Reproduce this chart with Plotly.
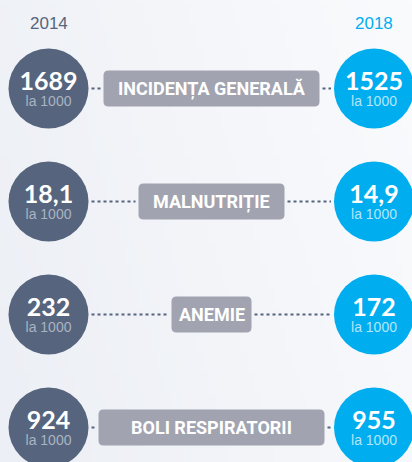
import base64
import struct
import zlib

import plotly.graph_objects as go

# data
indicators = ['INCIDENȚA GENERALĂ', 'MALNUTRIȚIE', 'ANEMIE', 'BOLI RESPIRATORII']
values_2014 = ['1689', '18,1', '232', '924']
values_2018 = ['1525', '14,9', '172', '955']
unit = 'la 1000'
years = ['2014', '2018']

# layout constants
W, H = 412, 462
left_x, right_x = 48.5, 374
row_y0, row_step = 88.5, 113
radius = 40
box_cx = 211.5
box_widths = [216, 146, 80, 226]
box_h = 36

col_left = '#56657d'
col_right = '#00aeef'
col_box = '#a1a4b0'

rows_y = [row_y0 + i * row_step for i in range(len(indicators))]


def rounded_rect(x0, y0, x1, y1, r):
    return (f'M{x0+r},{y0} L{x1-r},{y0} Q{x1},{y0} {x1},{y0+r} '
            f'L{x1},{y1-r} Q{x1},{y1} {x1-r},{y1} L{x0+r},{y1} '
            f'Q{x0},{y1} {x0},{y1-r} L{x0},{y0+r} Q{x0},{y0} {x0+r},{y0} Z')


def gradient_png(w=64, h=64, c0=(236, 239, 245), c1=(250, 251, 253)):
    # diagonal gradient: darker bottom-left, lighter top-right
    raw = b''
    for j in range(h):
        raw += b'\x00'
        for i in range(w):
            t = 0.75 * i / (w - 1) + 0.25 * (1 - j / (h - 1))
            raw += bytes(int(a + (b - a) * t) for a, b in zip(c0, c1))

    def chunk(tag, data):
        return struct.pack('>I', len(data)) + tag + data + struct.pack('>I', zlib.crc32(tag + data) & 0xffffffff)

    png = b'\x89PNG\r\n\x1a\n'
    png += chunk(b'IHDR', struct.pack('>IIBBBBB', w, h, 8, 2, 0, 0, 0))
    png += chunk(b'IDAT', zlib.compress(raw))
    png += chunk(b'IEND', b'')
    return 'data:image/png;base64,' + base64.b64encode(png).decode()


fig = go.Figure()

# Dotted connector lines
for y, bw in zip(rows_y, box_widths):
    for xa, xb in [(left_x + radius + 3, box_cx - bw / 2 - 3),
                   (box_cx + bw / 2 + 3, right_x - radius - 3)]:
        fig.add_trace(go.Scatter(x=[xa, xb], y=[y, y], mode='lines',
                                 line=dict(color=col_left, width=2, dash='dot'),
                                 hoverinfo='skip', showlegend=False))

# Circles
fig.add_trace(go.Scatter(x=[left_x] * len(rows_y), y=rows_y, mode='markers',
                         marker=dict(size=2 * radius, color=col_left, line=dict(width=0)),
                         hoverinfo='skip', showlegend=False))
fig.add_trace(go.Scatter(x=[right_x] * len(rows_y), y=rows_y, mode='markers',
                         marker=dict(size=2 * radius, color=col_right, line=dict(width=0)),
                         hoverinfo='skip', showlegend=False))

# Values inside circles
for x, vals, sub_col in [(left_x, values_2014, '#aab3c1'), (right_x, values_2018, '#b3e6fb')]:
    fig.add_trace(go.Scatter(x=[x] * len(vals), y=[y - 4.5 for y in rows_y], mode='text',
                             text=vals, textposition='middle center',
                             textfont=dict(family='Lato', size=25, color='white', weight='bold'),
                             hoverinfo='skip', showlegend=False))
    fig.add_trace(go.Scatter(x=[x] * len(vals), y=[y + 14 for y in rows_y], mode='text',
                             text=[unit] * len(vals), textposition='middle center',
                             textfont=dict(family='Liberation Sans, Arial', size=14, color=sub_col),
                             hoverinfo='skip', showlegend=False))

# Label boxes
for y, bw, label in zip(rows_y, box_widths, indicators):
    fig.add_shape(type='path', path=rounded_rect(box_cx - bw / 2, y - box_h / 2,
                                                 box_cx + bw / 2, y + box_h / 2, 5),
                  fillcolor=col_box, line=dict(width=0), layer='below')
    fig.add_annotation(x=box_cx, y=y, text=f'<b>{label}</b>', showarrow=False,
                       font=dict(family='Roboto', size=18, color='white'))

# Year headers
for x, yr, c in [(left_x, years[0], col_left), (right_x, years[1], col_right)]:
    fig.add_annotation(x=x, y=23, text=yr, showarrow=False,
                       font=dict(family='Liberation Sans, Arial', size=17, color=c))

fig.update_layout(
    width=W, height=H,
    margin=dict(l=0, r=0, t=0, b=0),
    paper_bgcolor='#f3f5f9',
    plot_bgcolor='rgba(0,0,0,0)',
    images=[dict(source=gradient_png(), xref='paper', yref='paper', x=0, y=1,
                 sizex=1, sizey=1, sizing='stretch', layer='below')],
    xaxis=dict(range=[0, W], visible=False, fixedrange=True),
    yaxis=dict(range=[H, 0], visible=False, fixedrange=True),
    showlegend=False,
)

fig.write_html('out.html', config={'displayModeBar': False},
               post_script="document.body.style.margin='0';")
